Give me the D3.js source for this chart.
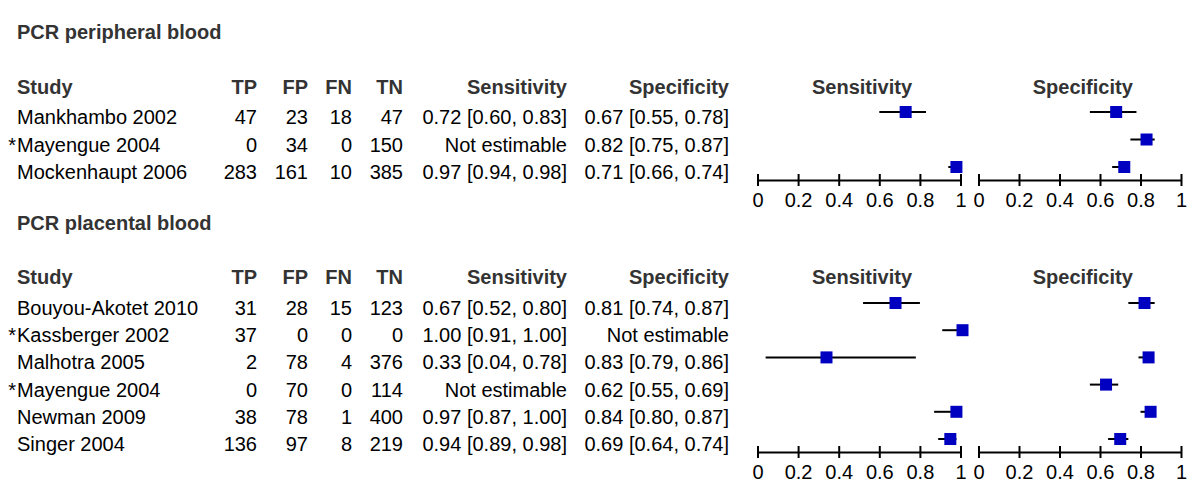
<!DOCTYPE html>
<html>
<head>
<meta charset="utf-8">
<script src="https://cdn.jsdelivr.net/npm/d3@7"></script>
<style>
  html, body { margin: 0; padding: 0; background: #fff; }
  svg { display: block; font-family: "Liberation Sans", Arial, sans-serif; }
</style>
</head>
<body>
<div id="forest"></div>
<script>
// PCR peripheral blood
const periStudies = ["Mankhambo 2002", "Mayengue 2004", "Mockenhaupt 2006"];
const periFlag = [false, true, false];
const periTP = [47, 0, 283];
const periFP = [23, 34, 161];
const periFN = [18, 0, 10];
const periTN = [47, 150, 385];
const periSens = [0.72, null, 0.97];
const periSensLo = [0.60, null, 0.94];
const periSensHi = [0.83, null, 0.98];
const periSpec = [0.67, 0.82, 0.71];
const periSpecLo = [0.55, 0.75, 0.66];
const periSpecHi = [0.78, 0.87, 0.74];

// PCR placental blood
const placStudies = ["Bouyou-Akotet 2010", "Kassberger 2002", "Malhotra 2005", "Mayengue 2004", "Newman 2009", "Singer 2004"];
const placFlag = [false, true, false, true, false, false];
const placTP = [31, 37, 2, 0, 38, 136];
const placFP = [28, 0, 78, 70, 78, 97];
const placFN = [15, 0, 4, 0, 1, 8];
const placTN = [123, 0, 376, 114, 400, 219];
const placSens = [0.67, 1.00, 0.33, null, 0.97, 0.94];
const placSensLo = [0.52, 0.91, 0.04, null, 0.87, 0.89];
const placSensHi = [0.80, 1.00, 0.78, null, 1.00, 0.98];
const placSpec = [0.81, null, 0.83, 0.62, 0.84, 0.69];
const placSpecLo = [0.74, null, 0.79, 0.55, 0.80, 0.64];
const placSpecHi = [0.87, null, 0.86, 0.69, 0.87, 0.74];

const tickValues = [0, 0.2, 0.4, 0.6, 0.8, 1];

const width = 1200;
const height = 497;
const headColor = "#333";
const markColor = "#0000c0";

const svg = d3.select("#forest")
    .append("svg")
    .attr("width", width)
    .attr("height", height);

const xSens = d3.scaleLinear().domain([0, 1]).range([757.5, 960.5]);
const xSpec = d3.scaleLinear().domain([0, 1]).range([978.5, 1181]);
const fmt = d3.format(".2f");
const tickFmt = d3.format("~g");

function ciText(v, lo, hi) {
    return v == null ? "Not estimable" : `${fmt(v)} [${fmt(lo)}, ${fmt(hi)}]`;
}

function section(opts) {
    const g = svg.append("g");
    const n = opts.studies.length;
    const y = d3.scaleLinear().domain([0, n - 1]).range([opts.firstRow, opts.lastRow]);

    g.append("text")
        .attr("x", 17).attr("y", opts.titleY).attr("dy", "0.35em")
        .attr("font-size", 20).attr("font-weight", "bold").attr("fill", headColor)
        .text(opts.title);

    const cols = [
        { label: "TP", x: 257, vals: opts.tp.map(String) },
        { label: "FP", x: 308, vals: opts.fp.map(String) },
        { label: "FN", x: 352, vals: opts.fn.map(String) },
        { label: "TN", x: 403, vals: opts.tn.map(String) },
        { label: "Sensitivity", x: 567, vals: opts.sens.map((v, i) => ciText(v, opts.sensLo[i], opts.sensHi[i])) },
        { label: "Specificity", x: 729, vals: opts.spec.map((v, i) => ciText(v, opts.specLo[i], opts.specHi[i])) }
    ];

    // header row
    g.append("text")
        .attr("x", 17).attr("y", opts.headY).attr("dy", "0.35em")
        .attr("font-size", 20).attr("font-weight", "bold").attr("fill", headColor)
        .text("Study");
    cols.forEach(c => {
        g.append("text")
            .attr("x", c.x).attr("y", opts.headY).attr("dy", "0.35em")
            .attr("text-anchor", "end")
            .attr("font-size", 20).attr("font-weight", "bold").attr("fill", headColor)
            .text(c.label);
    });
    [[xSens, "Sensitivity"], [xSpec, "Specificity"]].forEach(([x, label]) => {
        g.append("text")
            .attr("x", x(0.5) + 3).attr("y", opts.headY).attr("dy", "0.35em")
            .attr("text-anchor", "middle")
            .attr("font-size", 20).attr("font-weight", "bold").attr("fill", headColor)
            .text(label);
    });

    // study rows
    const rows = g.selectAll("g.row")
        .data(opts.studies)
        .enter()
        .append("g")
        .attr("class", "row");

    rows.append("text")
        .attr("x", 17).attr("y", (d, i) => y(i)).attr("dy", "0.35em")
        .attr("font-size", 20).attr("fill", "#000")
        .text(d => d);
    rows.filter((d, i) => opts.flag[i])
        .append("text")
        .attr("x", 16).attr("y", d => y(opts.studies.indexOf(d))).attr("dy", "0.35em")
        .attr("text-anchor", "end")
        .attr("font-size", 20).attr("fill", "#000")
        .text("*");

    cols.forEach(c => {
        rows.append("text")
            .attr("x", c.x).attr("y", (d, i) => y(i)).attr("dy", "0.35em")
            .attr("text-anchor", "end")
            .attr("font-size", 20).attr("fill", "#000")
            .text((d, i) => c.vals[i]);
    });

    // forest plots
    const panels = [
        { x: xSens, v: opts.sens, lo: opts.sensLo, hi: opts.sensHi },
        { x: xSpec, v: opts.spec, lo: opts.specLo, hi: opts.specHi }
    ];
    panels.forEach(p => {
        const pts = d3.range(n)
            .filter(i => p.v[i] != null)
            .map(i => ({ i, v: p.v[i], lo: p.lo[i], hi: p.hi[i] }));
        const pg = g.append("g");
        pg.selectAll("line.ci")
            .data(pts)
            .enter()
            .append("line")
            .attr("class", "ci")
            .attr("x1", d => p.x(d.lo)).attr("x2", d => p.x(d.hi))
            .attr("y1", d => y(d.i) - 5).attr("y2", d => y(d.i) - 5)
            .attr("stroke", "#000").attr("stroke-width", 2);
        // squares sit a touch right of the value in the original
        pg.selectAll("rect")
            .data(pts)
            .enter()
            .append("rect")
            .attr("x", d => p.x(d.v) - 4).attr("y", d => y(d.i) - 11)
            .attr("width", 12).attr("height", 12)
            .attr("fill", markColor);

        const axis = d3.axisBottom(p.x)
            .tickValues(tickValues)
            .tickFormat(tickFmt)
            .tickSizeInner(6)
            .tickSizeOuter(0);
        const ag = g.append("g")
            .attr("transform", `translate(0,${opts.axisY})`)
            .call(axis);
        ag.select(".domain").attr("stroke", "#000").attr("stroke-width", 2);
        ag.selectAll(".tick line")
            .attr("y1", -6).attr("y2", 6)
            .attr("stroke", "#000").attr("stroke-width", 2);
        ag.selectAll(".tick text")
            .attr("y", 20).attr("dy", "0.35em")
            .attr("fill", "#000")
            .attr("font-size", 20)
            .attr("font-family", "\"Liberation Sans\", Arial, sans-serif");
    });
}

section({
    title: "PCR peripheral blood", titleY: 32, headY: 87,
    firstRow: 117, lastRow: 172, axisY: 180,
    studies: periStudies, flag: periFlag,
    tp: periTP, fp: periFP, fn: periFN, tn: periTN,
    sens: periSens, sensLo: periSensLo, sensHi: periSensHi,
    spec: periSpec, specLo: periSpecLo, specHi: periSpecHi
});

section({
    title: "PCR placental blood", titleY: 223, headY: 277,
    firstRow: 308, lastRow: 444, axisY: 452,
    studies: placStudies, flag: placFlag,
    tp: placTP, fp: placFP, fn: placFN, tn: placTN,
    sens: placSens, sensLo: placSensLo, sensHi: placSensHi,
    spec: placSpec, specLo: placSpecLo, specHi: placSpecHi
});
</script>
</body>
</html>
